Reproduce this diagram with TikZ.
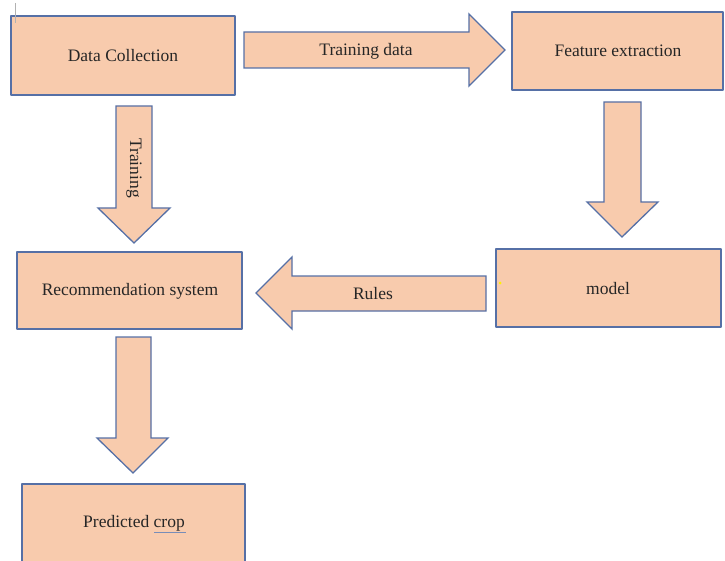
\documentclass[tikz,border=0pt]{standalone}
\usepackage{fontspec}
\setmainfont{Liberation Serif}
\usetikzlibrary{calc}
\definecolor{peach}{HTML}{F8CBAD}
\definecolor{edge}{HTML}{5670A6}
\definecolor{ink}{HTML}{262626}
\tikzset{
  box/.style={draw=edge, fill=peach, line width=1.3pt, line join=round},
  barrow/.style={draw=edge, fill=peach, line width=1.3pt, line join=miter},
  lbl/.style={text=ink, font=\fontsize{17.5}{20}\selectfont, inner sep=0pt},
}
\begin{document}
\begin{tikzpicture}[x=1pt,y=-1pt]
\useasboundingbox (0,0) rectangle (725,561);
\begin{scope}
\clip (0,0) rectangle (725,561);
% boxes
\draw[box] (11,16) rectangle (235,95);
\node[lbl] (dc) at (123,56) {Data Collection};
\draw[box] (512,12) rectangle (723,90);
\node[lbl] (fe) at (618,51) {Feature extraction};
\draw[box] (17,252) rectangle (242,329);
\node[lbl] (rs) at (130,291) {Recommendation system};
\draw[box] (496,249) rectangle (721,327);
\node[lbl] (md) at (608,289) {model};
\draw[box] (22,484) rectangle (245,570);
\node[lbl] (pc) at (134,523) {Predicted crop};
% block arrows
\draw[barrow] (244,32) -- (469,32) -- (469,14) -- (505,50) -- (469,86) -- (469,68) -- (244,68) -- cycle;
\node[lbl] (td) at (366,51) {Training data};
\draw[barrow] (116,106) -- (152,106) -- (152,208) -- (170,208) -- (134,243) -- (98,208) -- (116,208) -- cycle;
\node[lbl, rotate=-90] (tr) at (134,168) {Training};
\draw[barrow] (604,102) -- (641,102) -- (641,202) -- (658,202) -- (622,237) -- (587,202) -- (604,202) -- cycle;
\draw[barrow] (486,276) -- (292,276) -- (292,257) -- (256,293) -- (292,329) -- (292,311) -- (486,311) -- cycle;
\node[lbl] (ru) at (373,294) {Rules};
\draw[barrow] (116,337) -- (151,337) -- (151,438) -- (168,438) -- (133,473) -- (97,438) -- (116,438) -- cycle;
% artifacts
\draw[gray!60, line width=1pt] (15,3) -- (15,23);
\draw[edge!80, line width=0.8pt] (154,532) -- (186,532);
\fill[yellow] (500,283) circle (1.5);
\end{scope}
\end{tikzpicture}
\end{document}
